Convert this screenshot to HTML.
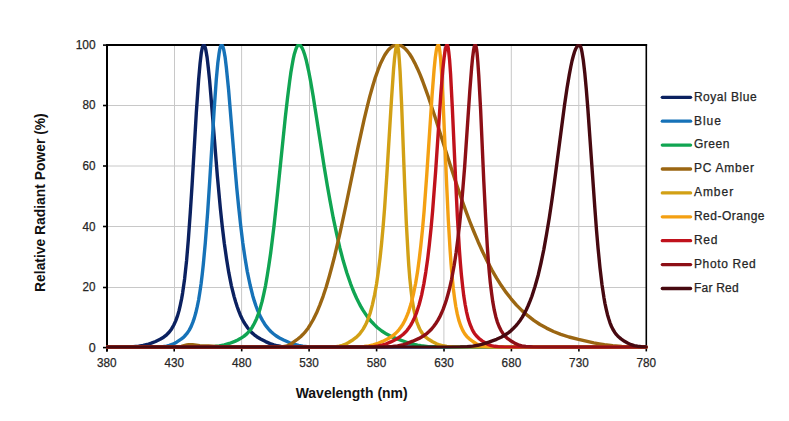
<!DOCTYPE html>
<html><head><meta charset="utf-8"><title>Relative Radiant Power</title>
<style>
html,body{margin:0;padding:0;background:#fff;width:789px;height:421px;overflow:hidden}
svg{position:absolute;left:0;top:0;display:block}
text{font-family:"Liberation Sans",sans-serif}
</style></head><body>
<svg width="789" height="421" viewBox="0 0 789 421">
<defs><clipPath id="pa"><rect x="106.0" y="43.9" width="541.5" height="304.7"/></clipPath></defs>
<rect width="789" height="421" fill="#fff"/>
<g stroke="#c8c8c8" stroke-width="1">
<line x1="174.5" y1="44.9" x2="174.5" y2="347.2"/>
<line x1="241.6" y1="44.9" x2="241.6" y2="347.2"/>
<line x1="309.5" y1="44.9" x2="309.5" y2="347.2"/>
<line x1="376.5" y1="44.9" x2="376.5" y2="347.2"/>
<line x1="443.9" y1="44.9" x2="443.9" y2="347.2"/>
<line x1="511.3" y1="44.9" x2="511.3" y2="347.2"/>
<line x1="578.8" y1="44.9" x2="578.8" y2="347.2"/>
<line x1="106.8" y1="105.5" x2="646.3" y2="105.5"/>
<line x1="106.8" y1="166.0" x2="646.3" y2="166.0"/>
<line x1="106.8" y1="226.5" x2="646.3" y2="226.5"/>
<line x1="106.8" y1="287.5" x2="646.3" y2="287.5"/>
</g>
<g stroke="#000" stroke-width="1.6">
<line x1="106.8" y1="347.2" x2="106.8" y2="351.4"/>
<line x1="174.2" y1="347.2" x2="174.2" y2="351.4"/>
<line x1="241.7" y1="347.2" x2="241.7" y2="351.4"/>
<line x1="309.1" y1="347.2" x2="309.1" y2="351.4"/>
<line x1="376.6" y1="347.2" x2="376.6" y2="351.4"/>
<line x1="444.0" y1="347.2" x2="444.0" y2="351.4"/>
<line x1="511.4" y1="347.2" x2="511.4" y2="351.4"/>
<line x1="578.9" y1="347.2" x2="578.9" y2="351.4"/>
<line x1="646.3" y1="347.2" x2="646.3" y2="351.4"/>
<line x1="103.0" y1="347.6" x2="106.8" y2="347.6"/>
<line x1="103.0" y1="287.5" x2="106.8" y2="287.5"/>
<line x1="103.0" y1="226.5" x2="106.8" y2="226.5"/>
<line x1="103.0" y1="166.0" x2="106.8" y2="166.0"/>
<line x1="103.0" y1="105.5" x2="106.8" y2="105.5"/>
<line x1="103.0" y1="45.1" x2="106.8" y2="45.1"/>
</g>

<g stroke="#000" fill="none">
<line x1="106.0" y1="45.1" x2="647.1" y2="45.1" stroke-width="2"/>
<line x1="107.0" y1="44.1" x2="107.0" y2="351.4" stroke-width="2"/>
<line x1="646.3" y1="44.1" x2="646.3" y2="345.7" stroke-width="1.6"/>
</g>
<g clip-path="url(#pa)" fill="none" stroke-width="3.4" stroke-linejoin="round" stroke-linecap="round">
<path stroke="#0b2160" d="M106.8 347.2 127.0 346.9 133.3 346.6 138.6 346.1 143.1 345.5 147.3 344.5 151.3 343.2 155.6 341.5 160.1 339.3 163.6 337.2 166.6 334.8 169.1 332.3 171.6 328.9 173.8 325.0 175.8 320.6 177.6 315.6 179.1 310.4 180.3 305.1 181.6 298.9 182.6 293.1 184.6 278.9 186.6 260.4 188.3 240.2 190.3 212.4 192.1 184.6 196.3 112.8 198.6 80.0 200.1 63.1 201.3 52.9 202.1 48.7 202.6 46.8 203.1 45.5 203.3 45.1 203.7 44.9 204.1 45.0 204.3 45.3 204.8 46.3 205.3 47.8 205.8 49.9 207.1 57.4 208.3 67.7 209.6 80.3 210.8 94.6 217.3 175.4 220.3 207.9 222.3 226.7 224.3 243.2 226.6 259.2 228.8 272.7 231.3 285.3 232.6 290.7 234.1 296.6 235.6 301.8 237.1 306.5 238.6 310.6 240.3 314.9 242.1 318.7 243.8 322.0 245.6 324.8 247.6 327.7 249.6 330.2 251.8 332.6 254.3 334.8 256.8 336.7 260.6 339.0 265.6 341.6 270.1 343.6 273.8 344.9 277.3 345.8 281.1 346.4 285.6 346.8 291.1 347.0 299.8 347.2 316.3 347.2 646.3 347.2"/>
<path stroke="#1672b8" d="M106.8 347.2 143.1 347.2 155.6 347.0 160.1 346.8 163.6 346.5 166.6 346.1 169.3 345.4 172.8 344.2 176.6 342.2 181.1 339.2 182.8 337.9 184.3 336.5 186.8 333.7 189.1 330.4 191.1 326.6 192.8 322.4 194.3 318.1 195.8 312.8 197.3 306.4 198.6 300.0 199.8 292.6 201.1 283.8 202.3 273.7 203.3 264.5 205.3 242.8 207.6 213.2 209.6 182.9 214.1 110.5 216.3 79.3 217.8 63.1 219.1 53.2 219.8 49.1 220.3 47.1 221.1 45.3 221.3 45.0 221.6 44.9 222.1 45.1 222.3 45.4 222.8 46.4 223.8 50.0 225.1 57.1 226.3 67.0 228.6 89.9 235.1 168.8 236.8 188.4 238.6 206.4 240.6 224.9 242.8 243.0 245.1 258.5 247.3 271.6 250.1 285.0 252.8 295.9 254.3 300.9 255.8 305.5 257.3 309.5 259.1 313.7 260.8 317.4 262.6 320.6 264.6 323.9 266.6 326.7 268.6 329.1 270.8 331.5 273.1 333.5 275.6 335.5 279.1 337.7 283.6 340.0 289.8 342.8 294.6 344.4 298.6 345.5 302.8 346.2 307.6 346.7 313.6 347.0 323.3 347.1 340.8 347.2 646.3 347.2"/>
<path stroke="#10a552" d="M106.8 347.2 173.6 347.2 196.1 347.1 209.8 346.7 214.8 346.4 219.1 345.9 224.3 345.0 229.3 343.5 234.8 341.4 237.8 340.0 240.3 338.6 243.8 336.4 246.8 333.9 249.6 330.9 252.1 327.4 254.3 323.5 256.6 318.7 258.6 313.4 260.3 307.9 262.1 301.4 263.8 293.9 265.6 285.3 267.3 275.3 268.8 265.8 270.6 253.5 272.3 240.0 274.1 225.3 277.3 195.4 285.3 117.4 287.6 97.4 289.6 81.6 290.8 72.9 292.1 65.2 293.3 58.6 294.3 54.2 295.6 49.9 296.6 47.4 297.3 46.0 297.8 45.4 298.3 45.1 298.9 44.9 299.6 45.0 300.1 45.3 300.6 45.7 301.3 46.7 302.3 48.4 303.6 51.4 304.8 55.1 306.1 59.7 308.6 70.8 310.6 81.2 313.1 95.7 324.3 167.4 327.3 185.5 330.1 201.1 333.3 218.2 336.6 233.7 339.8 247.7 343.3 261.1 346.8 272.8 350.6 283.8 352.6 289.0 354.6 293.8 356.6 298.2 358.6 302.3 360.6 306.1 362.8 309.9 365.1 313.4 367.3 316.6 369.6 319.5 372.1 322.3 374.6 324.9 377.3 327.5 381.8 331.0 386.6 334.1 391.8 336.8 397.8 339.2 407.3 342.5 414.3 344.5 417.6 345.2 421.1 345.8 428.3 346.6 438.8 347.0 455.6 347.2 646.3 347.2"/>
<path stroke="#9b6612" d="M106.8 347.2 173.6 347.1 176.6 347.0 179.1 346.7 181.3 346.3 186.8 345.0 188.6 344.7 190.3 344.6 192.6 344.7 199.8 345.6 208.6 346.0 220.1 346.8 226.1 347.1 236.3 347.2 269.1 347.2 276.3 347.2 280.3 347.0 283.1 346.7 285.6 346.3 287.8 345.5 289.8 344.6 292.8 342.7 297.8 339.0 300.6 336.7 302.8 334.6 304.6 332.7 306.3 330.5 308.1 328.2 309.8 325.5 313.3 319.5 316.6 312.8 319.8 305.1 323.1 296.3 326.1 287.2 329.3 276.2 331.8 267.0 334.6 256.2 337.3 244.7 340.3 231.6 345.8 206.0 358.1 146.8 364.1 119.6 367.1 107.1 369.8 96.4 372.6 86.5 375.3 77.6 378.1 69.7 380.8 62.9 383.6 57.3 384.8 55.0 386.3 52.7 387.6 50.9 389.1 49.2 390.3 48.0 391.8 46.8 393.1 46.0 394.6 45.4 396.1 45.0 397.5 44.9 398.6 45.0 399.8 45.2 401.1 45.7 402.3 46.4 404.6 48.1 407.1 50.7 409.6 54.0 412.1 58.0 414.8 63.1 417.6 68.9 420.1 74.7 422.6 81.0 425.3 88.3 428.3 96.8 434.8 116.3 450.3 165.2 457.8 188.1 461.8 199.7 465.8 210.9 469.8 221.5 473.6 231.0 478.1 241.7 482.6 251.7 487.1 260.9 491.8 269.9 496.6 278.1 501.3 285.6 506.1 292.4 511.1 298.8 516.5 305.1 522.0 310.6 527.8 315.7 533.8 320.3 540.0 324.5 546.5 328.1 553.5 331.5 560.8 334.3 569.0 337.0 578.5 339.4 593.8 342.9 599.3 343.9 604.5 344.8 612.8 345.8 621.8 346.5 632.3 346.9 646.3 347.1"/>
<path stroke="#d2a015" d="M106.8 347.2 313.1 347.2 325.1 347.1 331.8 347.0 336.1 346.7 339.3 346.2 342.3 345.4 345.1 344.4 348.6 342.5 353.1 339.7 356.1 337.4 358.6 335.1 360.3 333.1 361.8 331.1 363.3 328.9 364.8 326.2 366.3 323.2 367.6 320.2 368.8 316.9 370.1 313.2 372.3 305.1 374.6 294.9 376.6 283.7 378.3 271.8 380.1 257.6 381.6 243.3 383.1 226.8 384.6 208.1 386.8 175.7 391.6 97.6 393.6 68.9 394.6 58.0 395.6 50.1 396.3 46.5 396.8 45.2 397.2 44.9 397.6 45.3 397.8 46.2 398.6 51.2 399.3 59.9 400.1 71.9 401.6 104.0 404.8 188.0 406.3 222.6 408.1 254.8 408.8 265.8 409.8 278.3 411.1 290.9 412.3 300.6 413.6 308.4 415.1 315.5 416.8 321.8 418.6 326.5 419.6 328.7 420.8 331.0 422.1 333.0 423.3 334.6 425.8 337.2 428.6 339.3 432.6 341.8 436.6 343.8 439.8 345.0 443.1 345.8 446.8 346.4 451.6 346.8 460.3 347.1 475.3 347.2 646.3 347.2"/>
<path stroke="#f4a012" d="M106.8 347.2 332.3 347.2 349.1 347.1 358.6 346.9 364.1 346.5 368.8 345.9 373.1 344.9 377.1 343.7 382.6 341.4 388.3 338.5 392.1 336.2 395.3 333.6 397.3 331.6 399.1 329.6 400.8 327.3 402.6 324.6 404.3 321.5 405.8 318.4 407.3 314.9 408.6 311.6 411.1 303.6 413.3 294.7 415.6 283.5 417.6 271.4 419.3 258.5 420.8 245.7 422.6 228.3 424.1 211.1 426.8 174.4 432.1 94.9 434.1 69.5 435.3 57.5 436.3 50.6 436.8 48.1 437.3 46.3 437.8 45.3 438.1 45.0 438.3 44.9 438.6 45.1 439.1 46.5 439.8 51.2 440.6 58.9 441.6 73.3 443.1 102.2 446.6 183.2 448.3 220.0 450.1 250.1 451.1 264.2 452.1 276.1 453.3 288.5 454.6 298.5 455.8 306.5 457.3 314.2 458.8 320.1 460.6 325.5 462.6 330.1 463.6 331.9 464.8 333.9 466.8 336.4 469.3 338.8 472.8 341.5 476.3 343.7 479.1 345.0 481.8 345.8 484.8 346.4 488.6 346.8 495.3 347.1 507.1 347.2 646.3 347.2"/>
<path stroke="#c0121c" d="M106.8 347.2 343.6 347.2 359.6 347.1 368.6 346.9 373.8 346.6 378.3 346.0 382.1 345.2 385.8 344.0 390.8 341.9 396.6 339.0 400.1 336.8 403.3 334.2 405.3 332.3 407.1 330.3 408.8 328.0 410.6 325.4 412.3 322.3 413.8 319.3 415.3 315.8 416.6 312.6 419.1 304.8 420.3 300.2 421.6 295.1 423.8 284.1 425.8 272.1 427.6 259.6 429.3 245.0 431.1 227.9 432.6 211.1 435.6 171.9 440.8 94.4 442.8 69.5 444.1 57.6 445.1 50.7 445.6 48.2 446.1 46.4 446.6 45.3 446.8 45.0 447.1 44.9 447.3 45.0 447.6 45.4 448.1 47.2 448.8 52.3 449.6 60.1 450.6 74.3 452.3 107.3 455.6 179.6 457.3 215.2 459.3 248.6 460.3 262.2 461.3 273.9 462.6 286.1 463.8 296.1 465.1 304.2 466.6 312.1 468.3 319.1 470.1 324.5 472.1 329.2 473.1 331.1 474.3 333.2 476.3 335.8 478.8 338.3 482.1 340.9 485.8 343.3 488.6 344.6 491.3 345.6 494.6 346.3 498.3 346.8 504.8 347.1 516.3 347.2 646.3 347.2"/>
<path stroke="#8d0f16" d="M106.8 347.2 359.3 347.2 376.6 347.1 386.6 346.9 392.6 346.5 397.6 345.9 402.1 345.0 406.6 343.6 412.8 341.2 419.1 338.4 423.3 336.0 427.1 333.3 429.3 331.3 431.6 329.0 433.8 326.3 435.8 323.5 437.8 320.4 439.6 317.2 441.3 313.6 443.1 309.4 444.8 304.7 446.3 300.2 447.8 295.1 449.1 290.3 451.6 279.3 454.1 265.8 456.1 252.8 457.8 239.5 459.6 224.2 461.1 209.3 462.8 189.7 464.6 167.5 469.8 91.1 471.6 68.1 472.6 57.6 473.6 50.0 474.3 46.4 474.8 45.2 475.2 44.9 475.6 45.2 476.1 46.7 476.6 49.5 477.1 53.5 477.8 61.6 478.8 76.1 480.6 109.3 483.8 181.4 485.6 216.9 487.3 246.4 488.3 260.4 489.3 272.4 490.3 282.6 491.6 293.3 492.8 301.9 494.3 310.2 495.8 316.7 497.3 321.8 499.1 326.5 501.1 330.6 503.1 333.7 505.3 336.4 508.1 338.9 511.6 341.3 515.0 343.4 518.3 344.8 521.8 345.9 525.8 346.5 532.5 347.0 543.5 347.2 646.3 347.2"/>
<path stroke="#470910" d="M106.8 347.2 428.3 347.2 448.8 347.1 460.3 346.9 467.1 346.6 472.8 346.1 477.8 345.3 482.6 344.2 488.8 342.2 496.6 339.3 501.6 337.0 505.8 334.5 508.6 332.6 511.1 330.6 513.5 328.3 515.8 325.9 518.0 323.2 520.3 320.2 522.3 317.1 524.3 313.6 526.3 309.7 528.0 306.0 530.0 301.2 531.8 296.5 535.0 286.5 538.3 274.7 541.0 263.0 543.8 249.6 546.5 234.5 549.3 217.7 551.8 200.9 554.3 183.0 564.5 105.3 567.0 88.2 569.3 74.6 570.8 66.7 572.0 61.0 573.3 56.0 574.5 51.9 575.8 48.7 577.0 46.5 577.8 45.6 578.3 45.2 578.8 45.0 579.3 44.9 579.8 45.1 580.5 46.4 581.3 48.8 582.0 52.2 583.3 60.2 584.8 73.1 586.3 89.3 587.8 108.0 594.8 207.4 596.5 230.1 598.0 247.6 600.0 267.9 602.0 284.7 604.0 298.0 605.0 303.6 606.3 309.6 607.5 314.7 608.8 319.1 610.0 322.8 611.5 326.5 613.0 329.5 614.8 332.4 616.5 334.7 618.5 336.8 621.0 338.9 624.5 341.3 628.0 343.3 631.3 344.7 634.3 345.6 637.5 346.2 641.5 346.7 646.3 346.9"/>
</g>
<g fill="#262626" stroke="#262626" stroke-width="0.25" font-size="12.5" text-anchor="middle">
<text x="106.8" y="366.8" textLength="19.6" lengthAdjust="spacingAndGlyphs">380</text>
<text x="174.2" y="366.8" textLength="19.6" lengthAdjust="spacingAndGlyphs">430</text>
<text x="241.7" y="366.8" textLength="19.6" lengthAdjust="spacingAndGlyphs">480</text>
<text x="309.1" y="366.8" textLength="19.6" lengthAdjust="spacingAndGlyphs">530</text>
<text x="376.6" y="366.8" textLength="19.6" lengthAdjust="spacingAndGlyphs">580</text>
<text x="444.0" y="366.8" textLength="19.6" lengthAdjust="spacingAndGlyphs">630</text>
<text x="511.4" y="366.8" textLength="19.6" lengthAdjust="spacingAndGlyphs">680</text>
<text x="578.9" y="366.8" textLength="19.6" lengthAdjust="spacingAndGlyphs">730</text>
<text x="646.3" y="366.8" textLength="19.6" lengthAdjust="spacingAndGlyphs">780</text>
</g>
<g fill="#262626" stroke="#262626" stroke-width="0.25" font-size="12.5" text-anchor="end">
<text x="95.6" y="351.8">0</text>
<text x="95.6" y="291.2" textLength="13.0" lengthAdjust="spacingAndGlyphs">20</text>
<text x="95.6" y="230.5" textLength="13.0" lengthAdjust="spacingAndGlyphs">40</text>
<text x="95.6" y="169.9" textLength="13.0" lengthAdjust="spacingAndGlyphs">60</text>
<text x="95.6" y="109.3" textLength="13.0" lengthAdjust="spacingAndGlyphs">80</text>
<text x="95.6" y="48.6" textLength="19.9" lengthAdjust="spacingAndGlyphs">100</text>
</g>
<g fill="#111" font-size="14.5" font-weight="bold" text-anchor="middle">
<text x="351.7" y="397.8" textLength="112" lengthAdjust="spacingAndGlyphs">Wavelength (nm)</text>
<text transform="translate(45 202.6) rotate(-90)" textLength="178.6" lengthAdjust="spacingAndGlyphs">Relative Radiant Power (%)</text>
</g>
<g stroke-width="3.3" stroke-linecap="round">
<line x1="662.3" y1="97.3" x2="690.6" y2="97.3" stroke="#0b2160"/>
<line x1="662.3" y1="121.2" x2="690.6" y2="121.2" stroke="#1672b8"/>
<line x1="662.3" y1="145.1" x2="690.6" y2="145.1" stroke="#10a552"/>
<line x1="662.3" y1="169.0" x2="690.6" y2="169.0" stroke="#9b6612"/>
<line x1="662.3" y1="192.9" x2="690.6" y2="192.9" stroke="#d2a015"/>
<line x1="662.3" y1="216.8" x2="690.6" y2="216.8" stroke="#f4a012"/>
<line x1="662.3" y1="240.7" x2="690.6" y2="240.7" stroke="#c0121c"/>
<line x1="662.3" y1="264.6" x2="690.6" y2="264.6" stroke="#8d0f16"/>
<line x1="662.3" y1="288.5" x2="690.6" y2="288.5" stroke="#470910"/>
</g>
<g fill="#262626" stroke="#262626" stroke-width="0.25" font-size="12">
<text x="693.9" y="100.6" textLength="62.7" lengthAdjust="spacing">Royal Blue</text>
<text x="693.9" y="124.5" textLength="27.0" lengthAdjust="spacing">Blue</text>
<text x="693.9" y="148.4" textLength="35.6" lengthAdjust="spacing">Green</text>
<text x="693.9" y="172.3" textLength="60.1" lengthAdjust="spacing">PC Amber</text>
<text x="693.9" y="196.2" textLength="39.3" lengthAdjust="spacing">Amber</text>
<text x="693.9" y="220.1" textLength="70.6" lengthAdjust="spacing">Red-Orange</text>
<text x="693.9" y="244.0" textLength="23.6" lengthAdjust="spacing">Red</text>
<text x="693.9" y="267.9" textLength="61.9" lengthAdjust="spacing">Photo Red</text>
<text x="693.9" y="291.8" textLength="44.8" lengthAdjust="spacing">Far Red</text>
</g>
</svg>
</body></html>
